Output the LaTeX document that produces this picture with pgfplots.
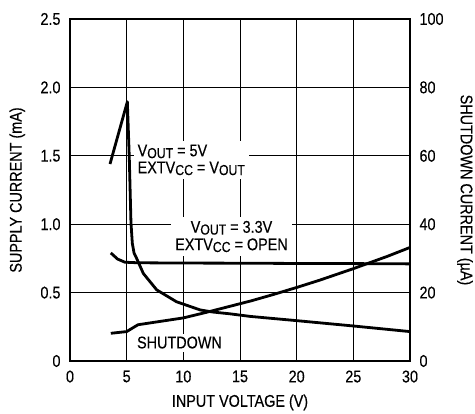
\documentclass[border=0pt]{standalone}
\usepackage{fontspec}
\setmainfont{Liberation Sans}[FakeStretch=0.85, FakeBold=0.3]
\usepackage{pgfplots}
\pgfplotsset{compat=1.18}
\newcommand\fs{\fontsize{17}{18}\selectfont}
\newcommand\sub[1]{\raisebox{-1.8bp}{\fontsize{14.5}{15}\selectfont #1}}
\begin{document}
\begin{tikzpicture}
\pgfplotsset{
  every axis/.append style={
    scale only axis, width=340bp, height=342bp,
    xmin=0, xmax=30,
    font=\fs,
    /pgf/number format/assume math mode=true,
    major tick length=0pt,
    axis line style={line width=1.6bp},
    xticklabel style={yshift=-6bp},
  },
}
\begin{axis}[
  ymin=0, ymax=2.5,
  xtick={0,5,...,30},
  ytick={0,0.5,1,1.5,2,2.5},
  yticklabels={0,0.5,1.0,1.5,2.0,2.5},
  yticklabel style={xshift=-6bp},
  grid=major,
  grid style={black, line width=0.7bp},
  xlabel={INPUT VOLTAGE (V)},
  xlabel style={at={(axis description cs:0.5,-0.121)}, anchor=center},
  ylabel={SUPPLY CURRENT (mA)},
  ylabel style={at={(axis description cs:-0.155,0.5)}, anchor=center},
]
\coordinate (ll) at (rel axis cs:0,0);
\coordinate (ur) at (rel axis cs:1,1);
\node[fill=white, inner sep=4bp, anchor=west, align=left, font=\fs] at (axis cs:5.6,1.47)
  {V\sub{OUT} = 5V\\[-1bp]EXTV\sub{CC} = V\sub{OUT}};
\node[fill=white, inner sep=4bp, align=center, font=\fs] at (axis cs:14.25,0.91)
  {V\sub{OUT} = 3.3V\\[-0.5bp]EXTV\sub{CC} = OPEN};
\node[fill=white, inner sep=3bp, font=\fs] at (axis cs:9.66,0.135) {SHUTDOWN};
% VOUT = 5V
\addplot[black, line width=2.8bp, line join=round] coordinates {
 (3.53,1.44) (5.06,1.895) (5.23,1.49) (5.38,1.01) (5.5,0.86) (5.65,0.79) (5.88,0.75)
 (6.47,0.64) (7.65,0.52) (9.4,0.433) (11.5,0.373) (12.6,0.358) (14.1,0.345)
 (15.9,0.326) (20,0.295) (25,0.256) (30,0.215)
};
% VOUT = 3.3V
\addplot[black, line width=2.8bp, line join=round] coordinates {
 (3.6,0.79) (4.2,0.745) (4.85,0.722) (6,0.718) (10,0.716) (15,0.715) (20,0.713) (25,0.712) (30,0.71)
};
\end{axis}
\begin{axis}[
  ymin=0, ymax=100,
  axis y line*=right, axis x line=none,
  ytick={0,20,...,100},
  yticklabel style={xshift=6bp},
  ylabel={SHUTDOWN CURRENT (µA)},
  ylabel style={at={(axis description cs:1.162,0.5)}, anchor=center, rotate=180},
]
\addplot[black, line width=2.8bp, line join=round] coordinates {
 (3.6,8.1) (5,8.6) (5.5,9.6) (6,10.6) (8,11.6) (10,12.6) (12,14.2) (14,15.9)
 (16,17.6) (18,19.5) (20,21.5) (22,23.6) (25,27.0) (28,30.6) (30,33.2)
};
\end{axis}
\pgfresetboundingbox
\path ([shift={(-70bp,-53bp)}]ll) rectangle ([shift={(65bp,19bp)}]ur);
\end{tikzpicture}
\end{document}
